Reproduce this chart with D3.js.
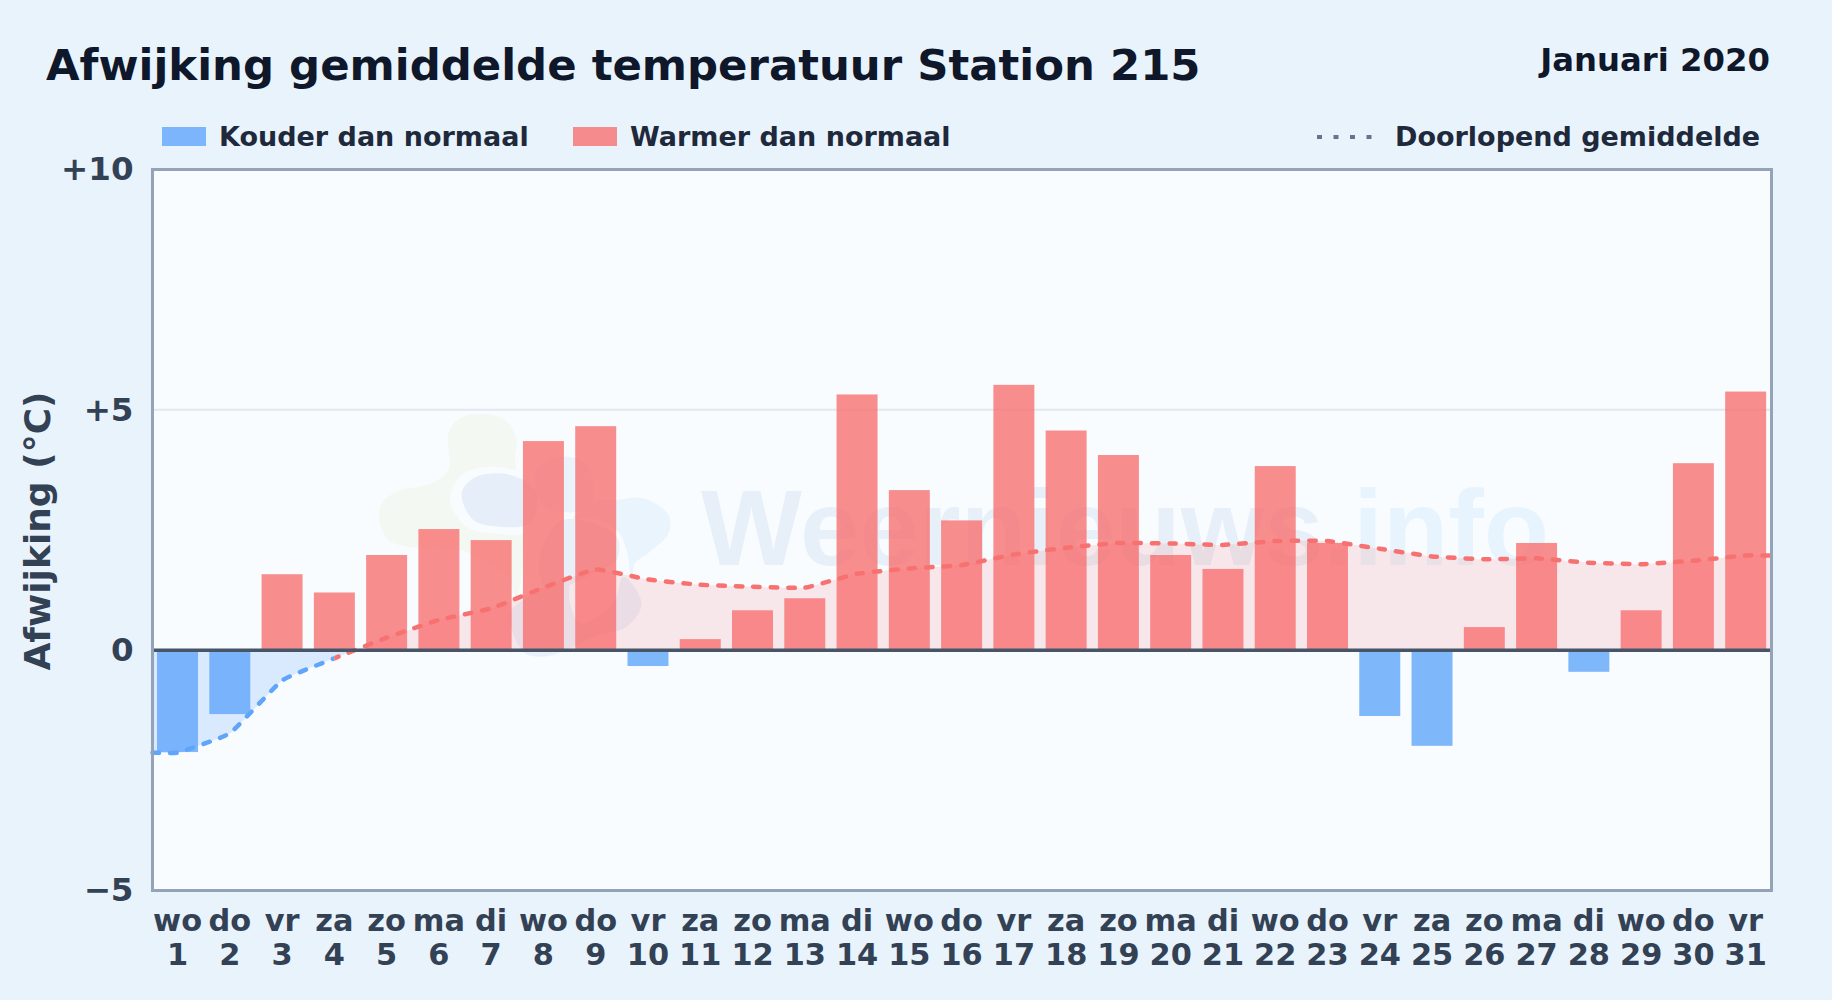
<!DOCTYPE html>
<html>
<head>
<meta charset="utf-8">
<title>Afwijking gemiddelde temperatuur Station 215</title>
<script src="https://cdn.jsdelivr.net/npm/d3@7"></script>
<style>
  html, body { margin: 0; padding: 0; background: #e9f3fc; }
  svg { display: block; font-family: "DejaVu Sans", sans-serif; font-weight: bold; }
</style>
</head>
<body>
<div id="chart"></div>
<script>
const days = d3.range(1, 32);
const weekdays = ['wo','do','vr','za','zo','ma','di','wo','do','vr','za','zo','ma','di','wo','do','vr','za','zo','ma','di','wo','do','vr','za','zo','ma','di','wo','do','vr'];
const deviation = [-2.12,-1.33,1.58,1.2,1.98,2.52,2.29,4.35,4.66,-0.33,0.23,0.83,1.08,5.32,3.33,2.7,5.52,4.57,4.06,1.98,1.69,3.83,2.23,-1.37,-1.99,0.48,2.23,-0.45,0.83,3.89,5.38];
const runningMean = [-2.13,-1.73,-0.63,-0.17,0.26,0.63,0.87,1.3,1.68,1.47,1.36,1.32,1.3,1.59,1.7,1.77,1.99,2.13,2.23,2.22,2.19,2.27,2.27,2.11,1.95,1.89,1.91,1.82,1.79,1.86,1.97];
const yTicks = [-5, 0, 5, 10];

const width = 1832, height = 1000;
const margin = { top: 169.5, right: 60.5, bottom: 109.5, left: 152.5 };
const plotRight = width - margin.right, plotBottom = height - margin.bottom;

const svg = d3.select('#chart').append('svg').attr('width', width).attr('height', height);
const defs = svg.append('defs');

svg.append('rect').attr('width', width).attr('height', height).attr('fill', '#e9f3fc');

const x = d3.scaleBand().domain(days).range([151.4, 1771.8]).paddingInner(0.216).paddingOuter(0.108);
const y = d3.scaleLinear().domain([-5, 10]).range([plotBottom, margin.top]);
const cx = d => x(d) + x.bandwidth() / 2;

svg.append('rect')
  .attr('x', margin.left).attr('y', margin.top)
  .attr('width', plotRight - margin.left).attr('height', plotBottom - margin.top)
  .attr('fill', '#f8fcff');

// watermark logo, outlines traced in a local 3x space
const mark = svg.append('g');
const logo = mark.append('g').attr('transform', 'translate(360, 390) scale(0.3333)');
const blob = d3.line().curve(d3.curveCatmullRomClosed.alpha(0.5));
logo.append('path')
  .attr('d', blob([[265,130],[300,85],[380,72],[440,95],[470,150],[465,205],[480,300],[490,450],[470,620],[440,560],[330,490],[250,470],[150,472],[85,450],[60,400],[65,340],[110,305],[215,280],[265,240]]))
  .attr('fill', '#f3f9f2');
logo.append('path')
  .attr('d', blob([[270,330],[310,250],[420,232],[520,270],[540,350],[630,355],[640,385],[520,430],[400,430],[320,410]]))
  .attr('fill', '#f8fcff');
logo.append('path')
  .attr('d', blob([[305,310],[340,265],[410,250],[480,265],[530,310],[510,400],[420,410],[340,390]]))
  .attr('fill', '#e6eff9');
logo.append('path')
  .attr('d', blob([[530,240],[610,200],[680,225],[700,300],[690,355],[560,355],[530,300]]))
  .attr('fill', '#eaf3fc');
logo.append('path')
  .attr('d', blob([[640,385],[700,335],[770,330],[850,325],[925,375],[925,430],[870,485],[825,520],[815,570],[800,480],[770,420],[700,385]]))
  .attr('fill', '#e9f4fd');
logo.append('path')
  .attr('d', blob([[610,390],[770,440],[770,510],[700,550],[560,600],[540,500]]))
  .attr('fill', '#e8f0f9');
logo.append('path')
  .attr('d', blob([[450,670],[490,630],[620,570],[630,640],[660,700],[760,640],[790,560],[845,640],[800,710],[700,740],[640,770],[550,800],[490,785]]))
  .attr('fill', '#e8f0f9');
const wm = mark.append('text')
  .attr('x', 701).attr('y', 565)
  .attr('font-size', 107)
  .attr('font-family', '"Liberation Sans"').attr('font-weight', 'bold');
wm.append('tspan').attr('fill', '#e7f0f8').text('Weernieuws');
wm.append('tspan').attr('fill', '#e8f4fd').text('.info');

// gridline at +5
svg.append('line')
  .attr('x1', margin.left).attr('x2', plotRight)
  .attr('y1', y(5)).attr('y2', y(5))
  .attr('stroke', '#e2e8f0').attr('stroke-width', 2);

// area between running mean and zero
const curve = d3.curveCardinal.tension(0.65);
const meanPoints = [[margin.left, runningMean[0]], ...days.map((d, i) => [cx(d), runningMean[i]]), [plotRight, runningMean[30]]];
const area = d3.area().x(d => d[0]).y0(y(0)).y1(d => y(d[1])).curve(curve);
const line = d3.line().x(d => d[0]).y(d => y(d[1])).curve(curve);

defs.append('clipPath').attr('id', 'above').append('rect')
  .attr('x', margin.left).attr('y', margin.top).attr('width', plotRight - margin.left).attr('height', y(0) - margin.top);
defs.append('clipPath').attr('id', 'below').append('rect')
  .attr('x', margin.left).attr('y', y(0)).attr('width', plotRight - margin.left).attr('height', plotBottom - y(0));
defs.append('clipPath').attr('id', 'coldPart').append('rect')
  .attr('x', 140).attr('y', margin.top).attr('width', cx(4) - 140).attr('height', plotBottom - margin.top);
defs.append('clipPath').attr('id', 'warmPart').append('rect')
  .attr('x', cx(4)).attr('y', margin.top).attr('width', 1790 - cx(4)).attr('height', plotBottom - margin.top);

svg.append('path').datum(meanPoints).attr('d', area).attr('clip-path', 'url(#above)').attr('fill', 'rgba(248,113,113,0.15)');
svg.append('path').datum(meanPoints).attr('d', area).attr('clip-path', 'url(#below)').attr('fill', 'rgba(96,165,250,0.2)');

// bars
svg.selectAll('.bar')
  .data(days)
  .enter().append('rect')
  .attr('class', 'bar')
  .attr('x', d => x(d))
  .attr('y', (d, i) => y(Math.max(0, deviation[i])))
  .attr('width', x.bandwidth())
  .attr('height', (d, i) => Math.abs(y(deviation[i]) - y(0)))
  .attr('fill', (d, i) => deviation[i] < 0 ? 'rgba(96,165,250,0.8)' : 'rgba(248,113,113,0.8)');

// running mean
svg.append('path').datum(meanPoints).attr('d', line).attr('clip-path', 'url(#coldPart)')
  .attr('fill', 'none').attr('stroke', '#60a5fa').attr('stroke-width', 4.5)
  .attr('stroke-dasharray', '6.5 11').attr('stroke-linecap', 'round');
svg.append('path').datum(meanPoints).attr('d', line).attr('clip-path', 'url(#warmPart)')
  .attr('fill', 'none').attr('stroke', '#f87171').attr('stroke-width', 4.5)
  .attr('stroke-dasharray', '6.5 11').attr('stroke-linecap', 'round');

// zero line
svg.append('line')
  .attr('x1', margin.left).attr('x2', plotRight)
  .attr('y1', y(0)).attr('y2', y(0))
  .attr('stroke', '#475569').attr('stroke-width', 3.5);

// frame
svg.append('rect')
  .attr('x', margin.left).attr('y', margin.top)
  .attr('width', plotRight - margin.left).attr('height', plotBottom - margin.top)
  .attr('fill', 'none').attr('stroke', '#94a3b8').attr('stroke-width', 3);

// axes
const fmt = d => d > 0 ? '+' + d : d < 0 ? '\u2212' + Math.abs(d) : '0';
const yAxis = svg.append('g')
  .attr('transform', `translate(${margin.left}, 0)`)
  .call(d3.axisLeft(y).tickValues(yTicks).tickFormat(fmt).tickSize(0).tickPadding(19));
yAxis.select('.domain').remove();
yAxis.selectAll('text').attr('font-size', 32.5).attr('font-family', '"DejaVu Sans"').attr('font-weight', 'bold').attr('fill', '#334155');

const xAxis = svg.append('g')
  .attr('transform', `translate(0, ${plotBottom})`)
  .call(d3.axisBottom(x).tickSize(0).tickFormat(''));
xAxis.select('.domain').remove();
xAxis.selectAll('.tick').each(function (d, i) {
  const t = d3.select(this).select('text')
    .attr('y', 0).attr('dy', null)
    .attr('font-size', 30.4).attr('font-family', '"DejaVu Sans"').attr('font-weight', 'bold').attr('fill', '#334155');
  t.append('tspan').attr('x', 0).attr('y', 40.5).text(weekdays[i]);
  t.append('tspan').attr('x', 0).attr('y', 74).text(d);
});

svg.append('text')
  .attr('transform', `translate(50, ${(margin.top + plotBottom) / 2 + 1}) rotate(-90)`)
  .attr('text-anchor', 'middle')
  .attr('font-size', 36).attr('fill', '#334155')
  .text('Afwijking (°C)');

// titles
svg.append('text').attr('x', 46).attr('y', 79.5).attr('font-size', 43.4).attr('fill', '#0f172a')
  .text('Afwijking gemiddelde temperatuur Station 215');
svg.append('text').attr('x', 1770).attr('y', 71).attr('text-anchor', 'end').attr('font-size', 32.3).attr('fill', '#0f172a')
  .text('Januari 2020');

// legend
const legendText = ['Kouder dan normaal', 'Warmer dan normaal'];
const legendX = [162, 573];
const legendColor = ['rgba(96,165,250,0.8)', 'rgba(248,113,113,0.8)'];
legendText.forEach((t, i) => {
  svg.append('rect').attr('x', legendX[i]).attr('y', 127).attr('width', 44).attr('height', 19).attr('fill', legendColor[i]);
  svg.append('text').attr('x', legendX[i] + 57).attr('y', 146).attr('font-size', 27).attr('fill', '#1e293b').text(t);
});
svg.append('line').attr('x1', 1317).attr('x2', 1374).attr('y1', 137).attr('y2', 137)
  .attr('stroke', '#64748b').attr('stroke-width', 4).attr('stroke-dasharray', '5 11.5');
svg.append('text').attr('x', 1395).attr('y', 146).attr('font-size', 27).attr('fill', '#1e293b').text('Doorlopend gemiddelde');
</script>
</body>
</html>
